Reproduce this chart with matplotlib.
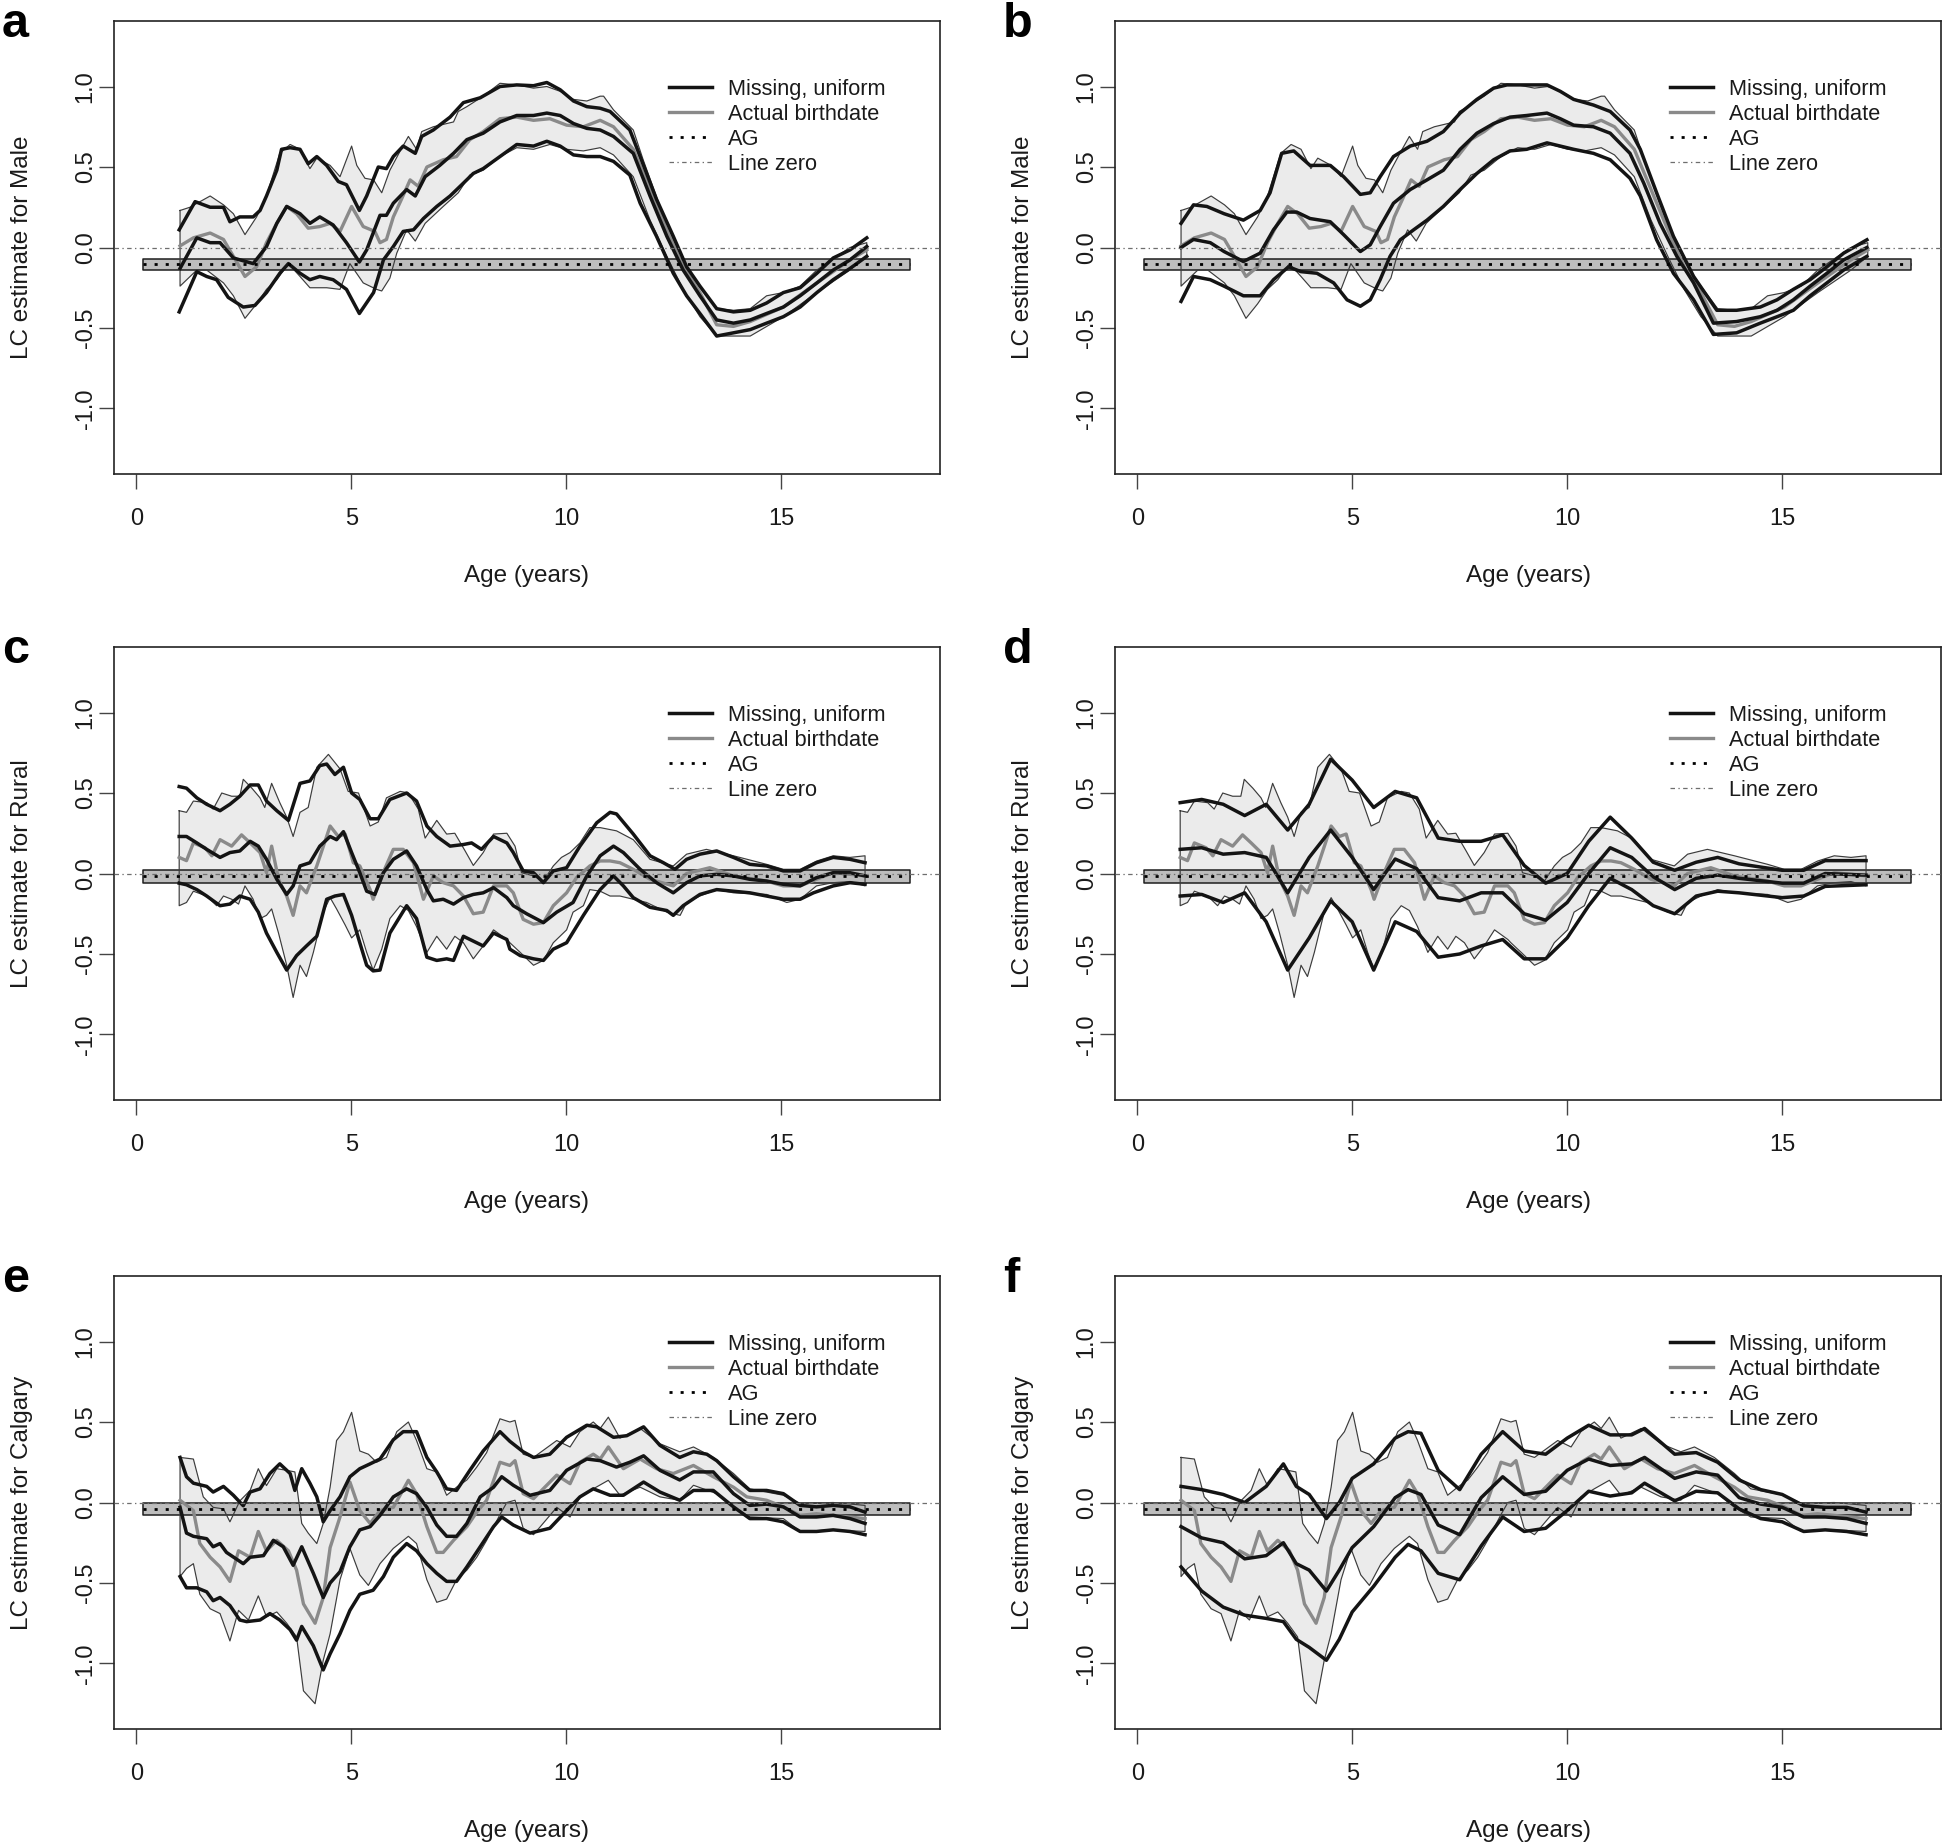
import matplotlib
matplotlib.use('Agg')
import matplotlib.pyplot as plt
from matplotlib.lines import Line2D

plt.rcParams['font.family'] = ['Liberation Sans', 'DejaVu Sans']

AGE_TICKS = [0, 5, 10, 15]
LC_TICKS = [-1.0, -0.5, 0.0, 0.5, 1.0]
LC_TICK_LABELS = ['-1.0', '-0.5', '0.0', '0.5', '1.0']
AG_AGE_RANGE = [0.17, 18.0]
LEGEND_LABELS = ['Missing, uniform', 'Actual birthdate', 'AG', 'Line zero']

# ---------------- Male (panels a, b) ----------------
male_ab_hi = [(1.02, 0.23), (1.25, 0.25), (1.72, 0.32), (2.03, 0.265), (2.26, 0.21), (2.53, 0.08), (2.80, 0.19),
              (3.03, 0.32), (3.34, 0.585), (3.58, 0.64), (3.81, 0.61), (4.04, 0.49), (4.20, 0.555), (4.51, 0.51),
              (4.74, 0.44), (5.01, 0.63), (5.13, 0.51), (5.32, 0.43), (5.52, 0.42), (5.71, 0.34), (5.90, 0.48),
              (6.14, 0.60), (6.33, 0.69), (6.52, 0.61), (6.64, 0.72), (6.91, 0.75), (7.38, 0.78), (7.49, 0.845),
              (7.69, 0.875), (8.07, 0.94), (8.46, 1.02), (8.85, 1.01), (9.24, 0.99), (9.55, 1.00), (9.86, 0.97),
              (10.17, 0.92), (10.48, 0.91), (10.79, 0.94), (10.87, 0.94), (11.10, 0.855), (11.56, 0.73),
              (11.79, 0.545), (12.18, 0.255), (12.49, 0.05), (12.80, -0.12), (13.11, -0.24), (13.50, -0.38),
              (13.89, -0.39), (14.28, -0.38), (14.66, -0.30), (15.05, -0.28), (15.44, -0.24), (15.83, -0.14),
              (16.21, -0.07), (16.60, 0.0), (16.99, 0.03)]
male_ab = [(1.02, 0.01), (1.33, 0.06), (1.72, 0.09), (2.03, 0.05), (2.26, -0.055), (2.53, -0.18), (2.80, -0.12),
           (3.03, 0.03), (3.27, 0.15), (3.50, 0.255), (3.73, 0.21), (4.00, 0.12), (4.27, 0.13), (4.51, 0.15),
           (4.74, 0.10), (5.01, 0.255), (5.28, 0.13), (5.55, 0.10), (5.67, 0.03), (5.82, 0.05), (5.98, 0.19),
           (6.17, 0.30), (6.37, 0.42), (6.56, 0.38), (6.76, 0.50), (7.14, 0.545), (7.45, 0.565), (7.76, 0.67),
           (8.07, 0.72), (8.46, 0.80), (8.85, 0.81), (9.24, 0.79), (9.62, 0.80), (10.01, 0.76), (10.40, 0.75),
           (10.79, 0.79), (11.10, 0.75), (11.56, 0.61), (11.95, 0.36), (12.34, 0.11), (12.72, -0.12),
           (13.11, -0.28), (13.50, -0.48), (13.89, -0.49), (14.28, -0.46), (15.05, -0.37), (15.83, -0.22),
           (16.60, -0.077), (16.99, -0.015)]
male_ab_lo = [(1.02, -0.24), (1.41, -0.14), (1.64, -0.14), (2.03, -0.22), (2.26, -0.30), (2.53, -0.44), (2.80, -0.35),
              (3.03, -0.26), (3.27, -0.20), (3.54, -0.10), (3.81, -0.18), (4.04, -0.25), (4.43, -0.25), (4.74, -0.26),
              (4.97, -0.10), (5.28, -0.22), (5.59, -0.26), (5.71, -0.27), (5.90, -0.19), (6.06, -0.035), (6.29, 0.11),
              (6.49, 0.04), (6.72, 0.15), (7.14, 0.255), (7.49, 0.34), (7.76, 0.45), (8.07, 0.48), (8.46, 0.565),
              (8.85, 0.62), (9.24, 0.61), (9.62, 0.64), (10.01, 0.61), (10.40, 0.60), (10.79, 0.62), (11.10, 0.575),
              (11.56, 0.44), (11.95, 0.17), (12.34, -0.055), (12.72, -0.26), (13.11, -0.43), (13.50, -0.55),
              (14.28, -0.55), (15.05, -0.43), (15.83, -0.28), (16.60, -0.14), (16.99, -0.055)]
male_mu_hi_a = [(1.00, 0.11), (1.37, 0.285), (1.72, 0.25), (2.03, 0.25), (2.18, 0.16), (2.41, 0.19), (2.72, 0.19),
                (2.88, 0.23), (3.03, 0.32), (3.27, 0.48), (3.38, 0.61), (3.58, 0.62), (3.81, 0.61), (4.00, 0.52),
                (4.20, 0.565), (4.43, 0.51), (4.70, 0.41), (4.89, 0.39), (5.19, 0.23), (5.36, 0.32), (5.63, 0.50),
                (5.82, 0.49), (5.98, 0.565), (6.21, 0.63), (6.49, 0.585), (6.64, 0.69), (6.91, 0.73), (7.30, 0.81),
                (7.61, 0.90), (8.00, 0.93), (8.46, 1.00), (8.85, 1.01), (9.24, 1.005), (9.55, 1.025), (9.86, 0.98),
                (10.17, 0.91), (10.48, 0.875), (10.79, 0.865), (11.02, 0.845), (11.48, 0.73), (11.72, 0.565),
                (12.10, 0.30), (12.49, 0.07), (12.80, -0.12), (13.11, -0.24), (13.50, -0.38), (13.89, -0.40),
                (14.28, -0.39), (14.66, -0.345), (15.05, -0.28), (15.44, -0.25), (15.83, -0.16), (16.21, -0.065),
                (16.60, -0.015), (16.99, 0.06)]
male_mu_a = [(1.02, -0.13), (1.41, 0.06), (1.72, 0.03), (1.95, 0.03), (2.26, -0.065), (2.72, -0.10), (3.03, 0.005),
             (3.27, 0.15), (3.50, 0.255), (3.81, 0.21), (4.04, 0.15), (4.27, 0.19), (4.58, 0.14), (4.89, 0.03),
             (5.19, -0.09), (5.36, -0.015), (5.67, 0.20), (5.82, 0.20), (5.98, 0.275), (6.29, 0.36), (6.49, 0.32),
             (6.72, 0.44), (7.06, 0.51), (7.38, 0.585), (7.69, 0.67), (8.07, 0.71), (8.46, 0.78), (8.85, 0.82),
             (9.24, 0.82), (9.55, 0.835), (9.86, 0.82), (10.17, 0.77), (10.48, 0.74), (10.79, 0.73), (11.10, 0.69),
             (11.56, 0.585), (11.95, 0.32), (12.34, 0.07), (12.72, -0.14), (13.11, -0.30), (13.50, -0.45),
             (13.89, -0.47), (14.28, -0.45), (14.66, -0.41), (15.05, -0.37), (15.44, -0.30), (15.83, -0.22),
             (16.21, -0.14), (16.60, -0.077), (16.99, 0.006)]
male_mu_lo_a = [(1.00, -0.40), (1.41, -0.15), (1.64, -0.18), (1.87, -0.20), (2.14, -0.31), (2.49, -0.37), (2.76, -0.36),
                (3.03, -0.28), (3.34, -0.16), (3.54, -0.10), (3.81, -0.16), (4.04, -0.20), (4.27, -0.18), (4.58, -0.20),
                (4.89, -0.26), (5.19, -0.41), (5.52, -0.28), (5.75, -0.077), (5.98, 0.006), (6.21, 0.10), (6.45, 0.11),
                (6.68, 0.18), (6.99, 0.255), (7.30, 0.32), (7.61, 0.40), (7.84, 0.46), (8.07, 0.49), (8.46, 0.565),
                (8.85, 0.64), (9.24, 0.63), (9.55, 0.66), (9.86, 0.63), (10.17, 0.575), (10.48, 0.565), (10.79, 0.565),
                (11.10, 0.535), (11.48, 0.45), (11.72, 0.275), (12.10, 0.07), (12.49, -0.16), (12.80, -0.30),
                (13.11, -0.41), (13.50, -0.55), (13.89, -0.53), (14.28, -0.51), (14.66, -0.47), (15.05, -0.43),
                (15.44, -0.37), (15.83, -0.28), (16.21, -0.20), (16.60, -0.13), (16.99, -0.055)]
male_mu_hi_b = [(1.02, 0.15), (1.31, 0.265), (1.62, 0.255), (2.02, 0.21), (2.47, 0.17), (2.86, 0.23), (3.09, 0.34),
                (3.36, 0.585), (3.64, 0.60), (4.02, 0.51), (4.49, 0.51), (4.80, 0.44), (5.19, 0.33), (5.42, 0.34),
                (5.65, 0.44), (5.96, 0.565), (6.35, 0.63), (6.74, 0.66), (7.12, 0.72), (7.51, 0.835), (7.90, 0.92),
                (8.29, 0.99), (8.60, 1.01), (9.06, 1.01), (9.53, 1.01), (9.84, 0.97), (10.15, 0.92), (10.61, 0.885),
                (11.00, 0.845), (11.46, 0.73), (11.70, 0.61), (12.08, 0.34), (12.47, 0.07), (12.94, -0.18),
                (13.48, -0.39), (13.94, -0.39), (14.49, -0.37), (14.88, -0.325), (15.26, -0.26), (15.65, -0.20),
                (16.04, -0.12), (16.43, -0.035), (16.97, 0.048)]
male_mu_b = [(1.02, 0.0), (1.31, 0.05), (1.70, 0.03), (2.02, -0.025), (2.47, -0.087), (2.86, -0.035), (3.17, 0.11),
             (3.48, 0.22), (3.71, 0.22), (4.02, 0.18), (4.49, 0.16), (4.80, 0.08), (5.19, -0.025), (5.42, 0.017),
             (5.65, 0.13), (5.96, 0.275), (6.35, 0.36), (6.74, 0.42), (7.12, 0.48), (7.51, 0.61), (7.90, 0.71),
             (8.29, 0.77), (8.67, 0.81), (9.06, 0.82), (9.53, 0.835), (9.84, 0.80), (10.15, 0.76), (10.61, 0.75),
             (11.00, 0.71), (11.46, 0.585), (11.78, 0.40), (12.16, 0.15), (12.55, -0.055), (12.94, -0.22),
             (13.40, -0.47), (13.94, -0.46), (14.49, -0.43), (14.88, -0.39), (15.26, -0.325), (15.65, -0.24),
             (16.04, -0.16), (16.43, -0.077), (16.97, 0.0)]
male_mu_lo_b = [(1.02, -0.335), (1.31, -0.18), (1.70, -0.20), (2.02, -0.24), (2.47, -0.30), (2.86, -0.30), (3.17, -0.20),
                (3.52, -0.12), (3.81, -0.15), (4.18, -0.16), (4.57, -0.22), (4.88, -0.325), (5.19, -0.365),
                (5.42, -0.325), (5.65, -0.20), (5.88, -0.055), (6.12, 0.048), (6.43, 0.11), (6.74, 0.17), (7.12, 0.255),
                (7.51, 0.36), (7.90, 0.46), (8.29, 0.545), (8.67, 0.60), (9.06, 0.61), (9.53, 0.65), (9.84, 0.63),
                (10.15, 0.61), (10.61, 0.585), (11.00, 0.545), (11.46, 0.43), (11.70, 0.32), (12.08, 0.048),
                (12.47, -0.16), (12.94, -0.325), (13.40, -0.54), (13.94, -0.53), (14.49, -0.47), (14.88, -0.43),
                (15.26, -0.39), (15.65, -0.30), (16.04, -0.22), (16.43, -0.14), (16.97, -0.055)]
male_ag = (-0.105, -0.139, -0.072)   # estimate, lower, upper

# ---------------- Rural (panels c, d) ----------------
rural_ab_hi = [(1.00, 0.39), (1.17, 0.38), (1.33, 0.45), (1.64, 0.44), (1.79, 0.40), (1.99, 0.50), (2.22, 0.48),
               (2.41, 0.48), (2.49, 0.585), (2.69, 0.53), (2.88, 0.47), (2.99, 0.41), (3.15, 0.56), (3.34, 0.44),
               (3.50, 0.35), (3.65, 0.23), (3.81, 0.38), (4.00, 0.41), (4.20, 0.66), (4.47, 0.74), (4.74, 0.65),
               (4.93, 0.51), (5.17, 0.50), (5.44, 0.295), (5.63, 0.32), (5.82, 0.47), (6.14, 0.51), (6.33, 0.50),
               (6.56, 0.40), (6.72, 0.22), (6.99, 0.33), (7.22, 0.245), (7.41, 0.25), (7.65, 0.14), (7.84, 0.05),
               (8.07, 0.13), (8.31, 0.245), (8.62, 0.25), (8.81, 0.17), (8.96, 0.005), (9.24, -0.015), (9.47, -0.047),
               (9.70, 0.047), (9.89, 0.10), (10.09, 0.13), (10.32, 0.19), (10.55, 0.285), (10.79, 0.285), (11.17, 0.265),
               (11.56, 0.21), (11.95, 0.088), (12.49, 0.047), (12.80, 0.12), (13.26, 0.15), (13.89, 0.11),
               (14.66, 0.057), (15.05, 0.026), (15.44, 0.026), (15.82, 0.077), (16.21, 0.11), (16.60, 0.10), (16.95, 0.11)]
rural_ab = [(1.00, 0.10), (1.17, 0.08), (1.33, 0.19), (1.60, 0.16), (1.76, 0.11), (1.95, 0.21), (2.22, 0.17), (2.45, 0.24),
            (2.65, 0.19), (2.88, 0.13), (3.03, 0.005), (3.15, 0.17), (3.31, -0.036), (3.50, -0.14), (3.65, -0.26),
            (3.81, -0.077), (3.96, -0.12), (4.20, 0.047), (4.51, 0.295), (4.70, 0.23), (4.86, 0.245), (5.05, 0.067),
            (5.20, 0.047), (5.44, -0.10), (5.51, -0.16), (5.71, -0.015), (5.98, 0.15), (6.21, 0.15), (6.45, 0.067),
            (6.68, -0.16), (6.91, -0.015), (7.14, -0.057), (7.38, -0.077), (7.61, -0.14), (7.84, -0.25), (8.07, -0.24),
            (8.31, -0.077), (8.62, -0.077), (8.77, -0.12), (9.00, -0.285), (9.24, -0.315), (9.47, -0.305),
            (9.70, -0.20), (10.01, -0.12), (10.24, -0.026), (10.55, 0.047), (10.79, 0.078), (11.02, 0.078),
            (11.25, 0.067), (11.56, 0.026), (11.95, -0.036), (12.49, -0.077), (12.80, 0.0), (13.34, 0.036),
            (13.89, -0.015), (14.66, -0.047), (15.05, -0.077), (15.44, -0.077), (15.82, -0.036), (16.21, 0.005),
            (16.60, -0.005), (16.95, -0.015)]
rural_ab_lo = [(1.00, -0.20), (1.17, -0.18), (1.33, -0.11), (1.64, -0.14), (1.87, -0.20), (2.03, -0.14), (2.22, -0.16),
               (2.38, -0.19), (2.53, -0.077), (2.72, -0.16), (2.88, -0.28), (3.03, -0.26), (3.15, -0.22), (3.31, -0.37),
               (3.50, -0.57), (3.65, -0.77), (3.81, -0.57), (3.96, -0.64), (4.12, -0.49), (4.35, -0.24), (4.51, -0.15),
               (4.66, -0.22), (4.86, -0.32), (5.01, -0.40), (5.20, -0.35), (5.36, -0.49), (5.51, -0.60), (5.71, -0.47),
               (5.90, -0.28), (6.14, -0.20), (6.33, -0.23), (6.52, -0.33), (6.76, -0.49), (6.99, -0.39), (7.22, -0.47),
               (7.41, -0.39), (7.61, -0.43), (7.84, -0.53), (8.07, -0.45), (8.31, -0.35), (8.62, -0.41), (8.69, -0.43),
               (8.93, -0.49), (9.24, -0.57), (9.47, -0.54), (9.70, -0.43), (10.01, -0.35), (10.16, -0.24),
               (10.40, -0.20), (10.55, -0.10), (10.79, -0.11), (11.02, -0.14), (11.25, -0.14), (11.56, -0.16),
               (11.87, -0.18), (12.34, -0.24), (12.65, -0.26), (12.80, -0.18), (13.11, -0.14), (13.50, -0.10),
               (13.89, -0.12), (14.66, -0.13), (15.13, -0.18), (15.44, -0.16), (15.82, -0.077), (16.21, -0.057),
               (16.60, -0.05), (16.95, -0.077)]
rural_mu_hi_c = [(1.00, 0.54), (1.17, 0.53), (1.41, 0.47), (1.64, 0.43), (1.95, 0.39), (2.18, 0.43), (2.41, 0.48),
                 (2.65, 0.55), (2.84, 0.55), (3.03, 0.45), (3.27, 0.39), (3.54, 0.33), (3.81, 0.56), (4.04, 0.575),
                 (4.27, 0.67), (4.43, 0.68), (4.62, 0.615), (4.82, 0.66), (5.01, 0.50), (5.20, 0.46), (5.44, 0.34),
                 (5.63, 0.34), (5.90, 0.46), (6.29, 0.50), (6.52, 0.45), (6.76, 0.295), (6.99, 0.23), (7.30, 0.17),
                 (7.61, 0.18), (7.80, 0.19), (8.03, 0.15), (8.31, 0.23), (8.62, 0.19), (8.77, 0.13), (9.00, 0.016),
                 (9.24, 0.005), (9.47, -0.057), (9.70, 0.016), (10.01, 0.036), (10.32, 0.17), (10.71, 0.315),
                 (11.02, 0.38), (11.17, 0.37), (11.56, 0.245), (11.95, 0.11), (12.26, 0.067), (12.53, 0.026),
                 (12.80, 0.088), (13.11, 0.12), (13.50, 0.14), (13.89, 0.10), (14.27, 0.057), (14.66, 0.047),
                 (15.05, 0.016), (15.44, 0.016), (15.82, 0.067), (16.21, 0.10), (16.60, 0.088), (16.95, 0.067)]
rural_mu_c = [(1.00, 0.23), (1.17, 0.23), (1.41, 0.19), (1.64, 0.15), (1.95, 0.10), (2.18, 0.13), (2.41, 0.14),
              (2.65, 0.20), (2.84, 0.17), (3.03, 0.088), (3.27, -0.036), (3.50, -0.13), (3.65, -0.077), (3.81, 0.047),
              (4.04, 0.067), (4.27, 0.17), (4.51, 0.23), (4.66, 0.21), (4.82, 0.26), (5.01, 0.13), (5.20, 0.005),
              (5.36, -0.11), (5.55, -0.13), (5.75, 0.005), (5.98, 0.088), (6.29, 0.14), (6.52, 0.047), (6.76, -0.10),
              (6.91, -0.17), (7.14, -0.16), (7.38, -0.19), (7.61, -0.15), (7.84, -0.13), (8.07, -0.12), (8.31, -0.088),
              (8.62, -0.15), (8.77, -0.20), (9.08, -0.25), (9.47, -0.305), (9.78, -0.24), (10.16, -0.18),
              (10.48, -0.015), (10.79, 0.11), (11.10, 0.17), (11.33, 0.13), (11.72, 0.026), (12.10, -0.057),
              (12.49, -0.12), (12.80, -0.057), (13.11, -0.015), (13.50, -0.005), (13.89, -0.015), (14.27, -0.036),
              (14.66, -0.047), (15.05, -0.067), (15.44, -0.077), (15.82, -0.026), (16.21, 0.005), (16.60, 0.005),
              (16.95, -0.015)]
rural_mu_lo_c = [(1.00, -0.06), (1.17, -0.07), (1.41, -0.10), (1.64, -0.14), (1.95, -0.20), (2.18, -0.19), (2.41, -0.14),
                 (2.65, -0.16), (2.84, -0.24), (3.03, -0.37), (3.27, -0.49), (3.50, -0.60), (3.73, -0.51), (3.96, -0.45),
                 (4.20, -0.39), (4.43, -0.16), (4.62, -0.14), (4.82, -0.13), (5.01, -0.26), (5.20, -0.43), (5.36, -0.57),
                 (5.51, -0.605), (5.67, -0.60), (5.90, -0.37), (6.29, -0.20), (6.52, -0.28), (6.76, -0.52),
                 (6.99, -0.54), (7.22, -0.53), (7.38, -0.54), (7.61, -0.39), (7.84, -0.42), (8.07, -0.45),
                 (8.31, -0.37), (8.62, -0.41), (8.69, -0.47), (8.93, -0.51), (9.24, -0.53), (9.47, -0.54),
                 (9.70, -0.47), (10.01, -0.43), (10.40, -0.26), (10.79, -0.10), (11.10, -0.015), (11.33, -0.077),
                 (11.56, -0.15), (11.95, -0.21), (12.34, -0.23), (12.49, -0.26), (12.72, -0.20), (13.11, -0.13),
                 (13.50, -0.10), (13.89, -0.11), (14.27, -0.12), (14.66, -0.14), (15.05, -0.16), (15.44, -0.16),
                 (15.75, -0.12), (16.21, -0.077), (16.60, -0.057), (16.95, -0.067)]
rural_mu_hi_d = [(1.00, 0.44), (1.50, 0.46), (2.00, 0.43), (2.50, 0.36), (3.00, 0.43), (3.50, 0.27), (4.00, 0.43),
                 (4.50, 0.71), (5.00, 0.58), (5.50, 0.41), (6.00, 0.51), (6.50, 0.47), (7.00, 0.22), (7.50, 0.20),
                 (8.00, 0.20), (8.50, 0.24), (9.00, 0.05), (9.50, -0.06), (10.00, 0.0), (10.50, 0.20), (11.00, 0.35),
                 (11.50, 0.22), (12.00, 0.07), (12.50, 0.02), (13.00, 0.07), (13.50, 0.10), (14.00, 0.06),
                 (15.00, 0.02), (15.50, 0.02), (16.00, 0.08), (16.95, 0.08)]
rural_mu_d = [(1.00, 0.15), (1.50, 0.16), (2.00, 0.12), (2.50, 0.13), (3.00, 0.10), (3.50, -0.12), (4.00, 0.10),
              (4.50, 0.27), (5.00, 0.10), (5.50, -0.10), (6.00, 0.09), (6.50, 0.03), (7.00, -0.15), (7.50, -0.17),
              (8.00, -0.12), (8.50, -0.12), (9.00, -0.25), (9.50, -0.29), (10.00, -0.18), (10.50, 0.0), (11.00, 0.16),
              (11.50, 0.10), (12.00, -0.02), (12.50, -0.10), (13.00, -0.03), (13.50, -0.01), (14.00, -0.03),
              (15.00, -0.06), (15.50, -0.06), (16.00, 0.0), (16.95, -0.01)]
rural_mu_lo_d = [(1.00, -0.14), (1.50, -0.13), (2.00, -0.18), (2.50, -0.12), (3.00, -0.30), (3.50, -0.60), (4.00, -0.40),
                 (4.50, -0.17), (5.00, -0.30), (5.50, -0.60), (6.00, -0.30), (6.50, -0.36), (7.00, -0.52),
                 (7.50, -0.50), (8.00, -0.45), (8.50, -0.41), (9.00, -0.53), (9.50, -0.53), (10.00, -0.40),
                 (10.50, -0.20), (11.00, -0.03), (11.50, -0.10), (12.00, -0.20), (12.50, -0.25), (13.00, -0.14),
                 (13.50, -0.11), (14.00, -0.12), (15.00, -0.15), (15.50, -0.14), (16.00, -0.08), (16.95, -0.07)]
rural_ag = (-0.015, -0.061, 0.022)

# ---------------- Calgary (panels e, f) ----------------
calg_ab_hi = [(1.02, 0.28), (1.33, 0.27), (1.56, 0.035), (1.79, -0.03), (2.03, -0.04), (2.18, -0.12), (2.41, 0.01),
              (2.65, 0.075), (2.84, 0.21), (3.03, 0.105), (3.27, 0.21), (3.50, 0.20), (3.69, 0.19), (3.85, -0.13),
              (4.00, -0.19), (4.20, -0.255), (4.35, -0.13), (4.51, 0.095), (4.66, 0.385), (4.82, 0.44), (5.01, 0.56),
              (5.20, 0.32), (5.40, 0.30), (5.59, 0.25), (5.82, 0.28), (6.06, 0.44), (6.33, 0.50), (6.52, 0.385),
              (6.76, 0.21), (6.99, 0.19), (7.22, 0.045), (7.45, 0.095), (7.69, 0.14), (7.92, 0.22), (8.15, 0.31),
              (8.46, 0.52), (8.69, 0.50), (8.81, 0.51), (9.00, 0.30), (9.24, 0.28), (9.78, 0.385), (10.09, 0.345),
              (10.32, 0.44), (10.63, 0.50), (10.79, 0.46), (10.98, 0.53), (11.25, 0.40), (11.72, 0.46), (12.18, 0.365),
              (12.64, 0.315), (12.96, 0.345), (13.42, 0.28), (13.89, 0.18), (14.27, 0.085), (15.05, 0.045),
              (15.44, -0.005), (16.21, 0.0), (16.95, -0.018)]
calg_ab = [(1.02, 0.014), (1.33, -0.05), (1.48, -0.255), (1.72, -0.34), (1.95, -0.40), (2.18, -0.49), (2.38, -0.30),
           (2.65, -0.34), (2.84, -0.18), (3.03, -0.30), (3.27, -0.235), (3.54, -0.30), (3.73, -0.42), (3.89, -0.63),
           (4.16, -0.75), (4.35, -0.59), (4.51, -0.28), (4.74, -0.09), (4.97, 0.127), (5.20, -0.05), (5.44, -0.13),
           (5.67, -0.05), (5.98, -0.03), (6.33, 0.138), (6.52, 0.055), (6.76, -0.15), (6.99, -0.31), (7.14, -0.31),
           (7.38, -0.235), (7.69, -0.15), (7.92, -0.06), (8.15, 0.014), (8.46, 0.25), (8.69, 0.23), (8.81, 0.26),
           (9.00, 0.055), (9.24, 0.024), (9.78, 0.17), (10.09, 0.117), (10.32, 0.25), (10.63, 0.30), (10.79, 0.27),
           (10.98, 0.345), (11.33, 0.21), (11.72, 0.27), (12.10, 0.21), (12.49, 0.18), (12.96, 0.23), (13.42, 0.16),
           (13.89, 0.095), (14.20, 0.035), (14.66, 0.014), (15.05, -0.027), (15.44, -0.08), (15.82, -0.07),
           (16.21, -0.08), (16.95, -0.10)]
calg_ab_lo = [(1.02, -0.46), (1.17, -0.41), (1.33, -0.38), (1.48, -0.57), (1.72, -0.66), (1.95, -0.69), (2.18, -0.86),
              (2.38, -0.67), (2.61, -0.73), (2.84, -0.58), (3.03, -0.71), (3.27, -0.68), (3.50, -0.75), (3.73, -0.835),
              (3.89, -1.17), (4.16, -1.25), (4.35, -0.98), (4.51, -0.815), (4.74, -0.48), (4.97, -0.285), (5.20, -0.45),
              (5.40, -0.515), (5.67, -0.38), (5.98, -0.285), (6.33, -0.21), (6.52, -0.255), (6.76, -0.48),
              (6.99, -0.62), (7.22, -0.60), (7.45, -0.48), (7.69, -0.42), (7.92, -0.34), (8.15, -0.235),
              (8.46, -0.075), (8.62, 0.0), (8.81, 0.014), (9.00, -0.16), (9.24, -0.20), (9.78, -0.03), (10.09, -0.09),
              (10.32, 0.035), (10.63, 0.085), (10.98, 0.138), (11.25, 0.045), (11.72, 0.095), (12.18, 0.035),
              (12.64, 0.014), (12.96, 0.107), (13.50, 0.055), (13.89, -0.03), (14.27, -0.09), (15.05, -0.10),
              (15.44, -0.18), (16.21, -0.17), (16.95, -0.18)]
calg_mu_hi_e = [(1.02, 0.28), (1.17, 0.16), (1.33, 0.12), (1.64, 0.10), (1.79, 0.065), (2.03, 0.10), (2.26, 0.045),
                (2.49, -0.02), (2.65, 0.065), (2.88, 0.085), (3.11, 0.18), (3.34, 0.24), (3.58, 0.18), (3.69, 0.075),
                (3.85, 0.21), (4.04, 0.12), (4.20, 0.035), (4.35, -0.12), (4.51, -0.05), (4.74, 0.035), (4.97, 0.16),
                (5.20, 0.21), (5.44, 0.24), (5.67, 0.27), (5.98, 0.39), (6.21, 0.44), (6.52, 0.44), (6.76, 0.28),
                (6.99, 0.19), (7.22, 0.085), (7.45, 0.075), (7.76, 0.20), (8.07, 0.32), (8.46, 0.44), (8.69, 0.38),
                (9.00, 0.315), (9.24, 0.28), (9.62, 0.30), (10.01, 0.405), (10.48, 0.48), (10.71, 0.47),
                (11.10, 0.405), (11.41, 0.415), (11.80, 0.47), (12.18, 0.355), (12.64, 0.28), (12.96, 0.315),
                (13.27, 0.30), (13.50, 0.26), (13.89, 0.16), (14.27, 0.075), (14.66, 0.075), (15.05, 0.055),
                (15.44, -0.018), (15.82, -0.027), (16.21, -0.018), (16.60, -0.027), (16.95, -0.06)]
calg_mu_e = [(1.02, -0.03), (1.17, -0.19), (1.33, -0.21), (1.64, -0.225), (1.79, -0.275), (1.95, -0.255), (2.10, -0.31),
             (2.49, -0.38), (2.65, -0.34), (2.96, -0.33), (3.19, -0.235), (3.42, -0.275), (3.65, -0.39),
             (3.85, -0.275), (4.12, -0.44), (4.35, -0.59), (4.51, -0.50), (4.74, -0.43), (4.97, -0.275),
             (5.20, -0.17), (5.44, -0.15), (5.67, -0.08), (5.98, 0.035), (6.29, 0.085), (6.52, 0.055), (6.76, -0.03),
             (6.99, -0.14), (7.22, -0.21), (7.45, -0.21), (7.69, -0.13), (8.00, 0.035), (8.31, 0.095), (8.50, 0.16),
             (8.77, 0.107), (9.16, 0.045), (9.62, 0.075), (10.01, 0.20), (10.48, 0.27), (10.79, 0.26), (11.17, 0.22),
             (11.48, 0.25), (11.80, 0.29), (12.18, 0.20), (12.64, 0.14), (12.96, 0.19), (13.42, 0.19),
             (13.89, 0.055), (14.27, -0.018), (14.66, -0.01), (15.05, -0.027), (15.44, -0.09), (15.82, -0.09),
             (16.21, -0.08), (16.60, -0.10), (16.95, -0.13)]
calg_mu_lo_e = [(1.02, -0.46), (1.17, -0.53), (1.41, -0.53), (1.64, -0.555), (1.79, -0.61), (1.95, -0.59), (2.18, -0.64),
                (2.41, -0.73), (2.57, -0.74), (2.88, -0.73), (3.11, -0.69), (3.34, -0.73), (3.58, -0.79),
                (3.73, -0.855), (3.85, -0.77), (4.12, -0.89), (4.35, -1.04), (4.51, -0.94), (4.74, -0.815),
                (4.97, -0.67), (5.20, -0.57), (5.51, -0.545), (5.75, -0.46), (5.98, -0.34), (6.29, -0.255),
                (6.52, -0.30), (6.76, -0.38), (6.99, -0.44), (7.22, -0.49), (7.45, -0.49), (7.69, -0.40),
                (8.00, -0.275), (8.31, -0.15), (8.50, -0.09), (8.77, -0.14), (9.16, -0.19), (9.62, -0.16),
                (10.01, -0.05), (10.32, 0.035), (10.63, 0.085), (11.02, 0.045), (11.33, 0.045), (11.80, 0.127),
                (12.18, 0.065), (12.64, 0.014), (12.96, 0.075), (13.42, 0.075), (13.89, -0.027), (14.27, -0.10),
                (14.66, -0.10), (15.05, -0.12), (15.44, -0.18), (15.82, -0.18), (16.21, -0.17), (16.60, -0.18),
                (16.95, -0.20)]
calg_mu_hi_f = [(1.02, 0.10), (1.50, 0.08), (2.00, 0.05), (2.50, 0.0), (3.00, 0.10), (3.40, 0.24), (3.70, 0.10),
                (4.00, 0.05), (4.40, -0.10), (4.70, 0.0), (5.00, 0.15), (5.50, 0.24), (6.00, 0.40), (6.30, 0.44),
                (6.60, 0.43), (7.00, 0.20), (7.50, 0.08), (8.00, 0.30), (8.50, 0.44), (9.00, 0.32), (9.50, 0.30),
                (10.00, 0.40), (10.50, 0.48), (11.00, 0.42), (11.50, 0.42), (11.80, 0.46), (12.50, 0.30),
                (13.00, 0.31), (13.50, 0.25), (14.00, 0.14), (14.50, 0.08), (15.00, 0.05), (15.50, -0.02),
                (16.00, -0.03), (16.50, -0.03), (16.95, -0.06)]
calg_mu_f = [(1.02, -0.15), (1.50, -0.22), (2.00, -0.25), (2.50, -0.35), (3.00, -0.33), (3.40, -0.25), (3.70, -0.38),
             (4.00, -0.42), (4.40, -0.55), (4.70, -0.42), (5.00, -0.28), (5.50, -0.15), (6.00, 0.03), (6.30, 0.08),
             (6.60, 0.05), (7.00, -0.14), (7.50, -0.20), (8.00, 0.03), (8.50, 0.16), (9.00, 0.05), (9.50, 0.07),
             (10.00, 0.20), (10.50, 0.27), (11.00, 0.23), (11.50, 0.24), (11.80, 0.28), (12.50, 0.15), (13.00, 0.19),
             (13.50, 0.17), (14.00, 0.03), (14.50, -0.01), (15.00, -0.03), (15.50, -0.09), (16.00, -0.09),
             (16.50, -0.10), (16.95, -0.13)]
calg_mu_lo_f = [(1.02, -0.40), (1.50, -0.55), (2.00, -0.65), (2.50, -0.70), (3.00, -0.72), (3.40, -0.74), (3.70, -0.85),
                (4.00, -0.90), (4.40, -0.98), (4.70, -0.85), (5.00, -0.68), (5.50, -0.52), (6.00, -0.34), (6.30, -0.26),
                (6.60, -0.30), (7.00, -0.44), (7.50, -0.48), (8.00, -0.27), (8.50, -0.09), (9.00, -0.18), (9.50, -0.16),
                (10.00, -0.05), (10.50, 0.07), (11.00, 0.04), (11.50, 0.06), (11.80, 0.12), (12.50, 0.01),
                (13.00, 0.07), (13.50, 0.06), (14.00, -0.04), (14.50, -0.10), (15.00, -0.12), (15.50, -0.18),
                (16.00, -0.17), (16.50, -0.18), (16.95, -0.20)]
calg_ag = (-0.038, -0.08, 0.0)

PANELS = [
    ('a', 'LC estimate for Male', male_ab, male_ab_lo, male_ab_hi, male_mu_a, male_mu_lo_a, male_mu_hi_a, male_ag),
    ('b', 'LC estimate for Male', male_ab, male_ab_lo, male_ab_hi, male_mu_b, male_mu_lo_b, male_mu_hi_b, male_ag),
    ('c', 'LC estimate for Rural', rural_ab, rural_ab_lo, rural_ab_hi, rural_mu_c, rural_mu_lo_c, rural_mu_hi_c, rural_ag),
    ('d', 'LC estimate for Rural', rural_ab, rural_ab_lo, rural_ab_hi, rural_mu_d, rural_mu_lo_d, rural_mu_hi_d, rural_ag),
    ('e', 'LC estimate for Calgary', calg_ab, calg_ab_lo, calg_ab_hi, calg_mu_e, calg_mu_lo_e, calg_mu_hi_e, calg_ag),
    ('f', 'LC estimate for Calgary', calg_ab, calg_ab_lo, calg_ab_hi, calg_mu_f, calg_mu_lo_f, calg_mu_hi_f, calg_ag),
]

# ---------------- styles / layout ----------------
W, H = 1942, 1845
FILL = '#ebebeb'
THIN = '#3c3c3c'
GREY = '#8a8a8a'
BLACK = '#141414'
TXT = '#1a1a1a'
DOT = (0, (1.1, 2.9))
DOTDASH = (0, (3.6, 2.7, 1.1, 2.7))
FS_AX = 17
FS_LEG = 15.7

COL_LEFT = [114, 1115]
ROW_TOP = [21, 647, 1276]
AX_W, AX_H = 826, 453

fig = plt.figure(figsize=(W / 100, H / 100), dpi=100)


def xy(series):
    return [p[0] for p in series], [p[1] for p in series]


for i, (letter, ylabel, ab, ab_lo, ab_hi, mu, mu_lo, mu_hi, ag) in enumerate(PANELS):
    r, c = divmod(i, 2)
    left = COL_LEFT[c] / W
    bottom = 1 - (ROW_TOP[r] + AX_H) / H
    ax = fig.add_axes([left, bottom, AX_W / W, AX_H / H])

    hx, hy = xy(ab_hi)
    lx, ly = xy(ab_lo)
    px = hx + lx[::-1] + hx[:1]
    py = hy + ly[::-1] + hy[:1]
    ax.fill(px, py, facecolor=FILL, edgecolor='none', zorder=1)

    ag_est, ag_lo, ag_hi = ag
    ax.fill_between(AG_AGE_RANGE, [ag_lo] * 2, [ag_hi] * 2, facecolor='#bdbdbd',
                    edgecolor='#1e1e1e', linewidth=1.1, zorder=2)
    ax.plot(px, py, color=THIN, lw=0.85, zorder=3)

    ax.plot(*xy(ab), color=GREY, lw=2.4, zorder=4, solid_joinstyle='round')
    for s in (mu_hi, mu, mu_lo):
        ax.plot(*xy(s), color=BLACK, lw=2.5, zorder=5, solid_joinstyle='round')
    ax.plot(AG_AGE_RANGE, [ag_est] * 2, color='black', lw=2.0, linestyle=DOT, zorder=6)
    ax.axhline(0, color='#6e6e6e', lw=0.9, linestyle=DOTDASH, zorder=6)

    ax.set_xlim(-0.516, 18.693)
    ax.set_ylim(-1.407, 1.407)
    ax.set_xticks(AGE_TICKS)
    ax.set_xticklabels([str(t) for t in AGE_TICKS])
    ax.set_yticks(LC_TICKS)
    ax.set_yticklabels(LC_TICK_LABELS, rotation=90, va='center')
    ax.tick_params(axis='both', length=10.5, width=1.0, color='#444444', labelsize=FS_AX,
                   labelcolor=TXT)
    ax.tick_params(axis='x', pad=14)
    ax.tick_params(axis='y', pad=2)
    for sp in ax.spines.values():
        sp.set_linewidth(1.2)
        sp.set_color('#222222')

    ax.set_xlabel('Age (years)', fontsize=FS_AX + 0.5, color=TXT, va='center')
    ax.xaxis.set_label_coords(0.5, -102 / AX_H)
    ax.set_ylabel(ylabel, fontsize=FS_AX + 0.5, color=TXT, va='center')
    ax.yaxis.set_label_coords(-92 / AX_W, 0.5)

    handles = [Line2D([], [], color=BLACK, lw=2.5),
               Line2D([], [], color=GREY, lw=2.4),
               Line2D([], [], color='black', lw=2.0, linestyle=DOT),
               Line2D([], [], color='#6e6e6e', lw=0.9, linestyle=DOTDASH)]
    leg = ax.legend(handles, LEGEND_LABELS, loc='upper left', bbox_to_anchor=(0.672, 0.873),
                    frameon=False, fontsize=FS_LEG, handlelength=1.98, handletextpad=0.74,
                    labelspacing=0.19, borderpad=0, borderaxespad=0)
    for t in leg.get_texts():
        t.set_color(TXT)

    fig.text((COL_LEFT[c] - 112) / W, 1 - (ROW_TOP[r] - 19) / H, letter, fontsize=35,
             fontweight='bold', ha='left', va='top')

fig.savefig('out.png', dpi=100)
